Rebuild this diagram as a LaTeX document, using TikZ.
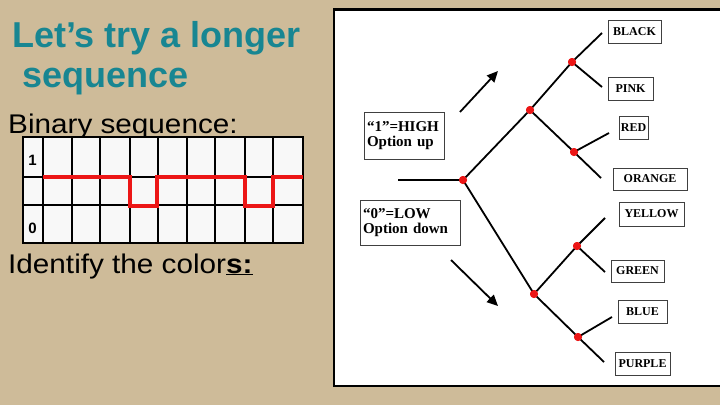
\documentclass[tikz,border=0pt]{standalone}
\usepackage{fontspec}
\setmainfont{Liberation Sans}
\newfontfamily\bodyfont[FakeStretch=1.1]{Liberation Sans}
\newfontfamily\serifb{Liberation Serif}
\usetikzlibrary{arrows.meta}
\definecolor{bg}{RGB}{206,187,153}
\definecolor{teal1}{RGB}{24,134,146}
\definecolor{redl}{RGB}{236,22,22}
\definecolor{cellbg}{RGB}{248,248,248}
\begin{document}
\begin{tikzpicture}[x=1pt,y=-1pt,
  txt/.style={anchor=base west,inner sep=0pt},
  lab/.style={draw=black!75,line width=0.9pt,fill=white,font=\serifb\bfseries\fontsize{12}{12}\selectfont,inner sep=0pt,minimum height=23pt},
  info/.style={draw=black!75,line width=0.9pt,fill=white,font=\serifb\bfseries\fontsize{15}{15}\selectfont,align=left,inner xsep=3pt,inner ysep=0pt},
  dot/.style={circle,fill=redl,inner sep=0pt,minimum size=8pt},
  wire/.style={line width=1.8pt},
  bigarrow/.style={line width=1.8pt,-{Triangle[length=11pt,width=10pt]}},
  gridthin/.style={line width=1.6pt},
  gridthick/.style={line width=2.8pt}]
\useasboundingbox (0,0) rectangle (720,405);
\fill[bg] (0,0) rectangle (720,405);
% titles
\node[txt,font=\bfseries\fontsize{36}{36}\selectfont,text=teal1] (t1) at (12,47) {Let’s try a longer};
\node[txt,font=\bfseries\fontsize{36}{36}\selectfont,text=teal1] (t2) at (22,87) {sequence};
\node[txt,font=\bodyfont\fontsize{27}{27}\selectfont] (bs) at (8,133) {Binary sequence:};
\node[txt,font=\bodyfont\fontsize{27}{27}\selectfont] (ic) at (8,273) {Identify the color\underline{\textbf{s:}}};
% grid
\fill[cellbg] (23,137) rectangle (303,243);
\foreach \x in {72,100,130,158,187,215,245,273} \draw[gridthin] (\x,137) -- (\x,243);
\draw[gridthin] (23,177) -- (303,177);
\draw[gridthin] (23,205) -- (303,205);
\draw[gridthick] (43,137) -- (43,243);
\draw[gridthick] (23,137) rectangle (303,243);
\node[font=\bfseries\fontsize{15}{15}\selectfont] (one) at (32.5,160) {1};
\node[font=\bfseries\fontsize{15}{15}\selectfont] (zero) at (32.5,228) {0};
\draw[redl,line width=4.2pt,line join=miter] (43,177) -- (130,177) -- (130,206) -- (157,206) -- (157,177) -- (245,177) -- (245,206) -- (273,206) -- (273,177) -- (303,177);
% panel
\draw[line width=2.5pt,fill=white] (334,9.5) rectangle (730,386);
% info boxes
\node[info,text width=74pt,minimum height=47pt] (hi) at (404,135.5) {“1”=HIGH\\Option up};
\node[info,text width=94pt,minimum height=45pt] (lo) at (410,222.5) {“0”=LOW\\Option down};
\coordinate (u1) at (460,112); \coordinate (u2) at (498,71);
\coordinate (d1) at (451,260); \coordinate (d2) at (498,306);
\draw[bigarrow] (u1) -- (u2);
\draw[bigarrow] (d1) -- (d2);
% tree
\coordinate (in) at (398,180);
\node[dot] (r) at (463,180) {};
\node[dot] (a) at (530,110) {};
\node[dot] (aa) at (572,62) {};
\node[dot] (ab) at (574,152) {};
\node[dot] (b) at (534,294) {};
\node[dot] (ba) at (577,246) {};
\node[dot] (bb) at (578,337) {};
\coordinate (aaa) at (602,33); \coordinate (aab) at (602,87);
\coordinate (aba) at (609,133); \coordinate (abb) at (601,178);
\coordinate (baa) at (605,218); \coordinate (bab) at (605,272);
\coordinate (bba) at (612,317); \coordinate (bbb) at (604,362);
\draw[wire] (in) -- (r.center) -- (a.center) -- (aa.center) -- (aaa);
\draw[wire] (aa.center) -- (aab);
\draw[wire] (a.center) -- (ab.center) -- (abb);
\draw[wire] (ab.center) -- (aba);
\draw[wire] (r.center) -- (b.center) -- (ba.center) -- (baa);
\draw[wire] (ba.center) -- (bab);
\draw[wire] (b.center) -- (bb.center) -- (bbb);
\draw[wire] (bb.center) -- (bba);
\foreach \n in {r,a,aa,ab,b,ba,bb} \fill[redl] (\n) circle (4pt);
% labels
\node[lab,minimum width=53pt] (black) at (634.5,32) {BLACK};
\node[lab,minimum width=45pt] (pink) at (630.5,88.5) {PINK};
\node[lab,minimum width=29pt] (red) at (633.5,128) {RED};
\node[lab,minimum width=74pt,minimum height=22pt] (orange) at (650,179) {ORANGE};
\node[lab,minimum width=65pt,minimum height=24pt] (yellow) at (651.5,214) {YELLOW};
\node[lab,minimum width=53pt,minimum height=22pt] (green) at (637.5,271) {GREEN};
\node[lab,minimum width=49pt] (blue) at (642.5,311.5) {BLUE};
\node[lab,minimum width=55pt] (purple) at (642.5,363.5) {PURPLE};
\end{tikzpicture}
\end{document}
